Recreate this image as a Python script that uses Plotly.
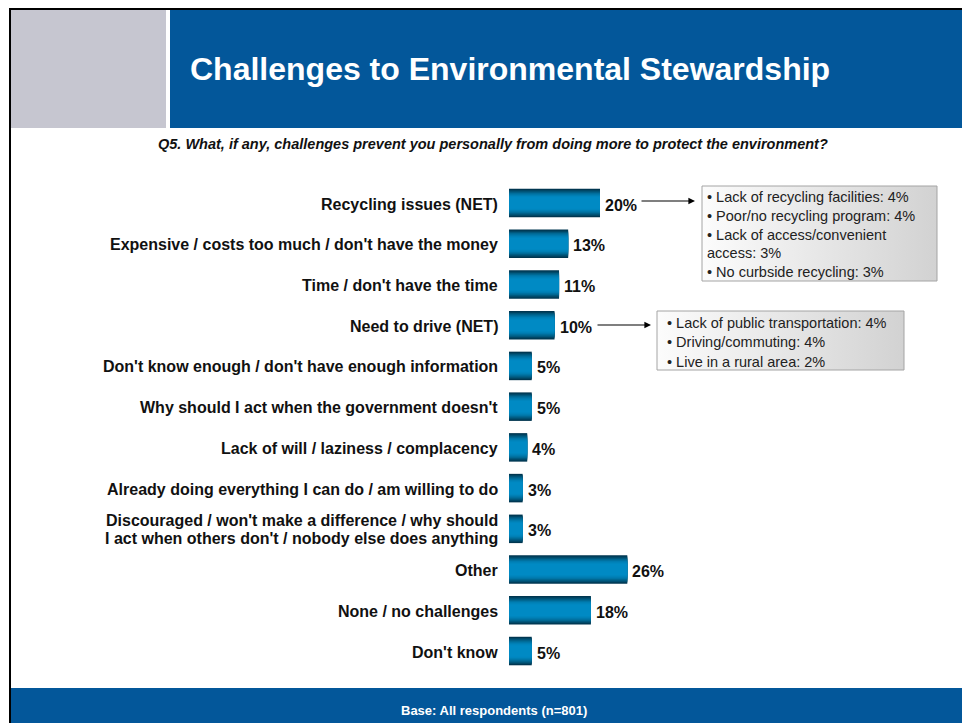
import plotly.graph_objects as go

# ---- survey results -------------------------------------------------------
categories = [
    "Recycling issues (NET)",
    "Expensive / costs too much / don't have the money",
    "Time / don't have the time",
    "Need to drive (NET)",
    "Don't know enough / don't have enough information",
    "Why should I act when the government doesn't",
    "Lack of will / laziness / complacency",
    "Already doing everything I can do / am willing to do",
    "Discouraged / won't make a difference / why should<br>I act when others don't / nobody else does anything",
    "Other",
    "None / no challenges",
    "Don't know",
]
values = [20, 13, 11, 10, 5, 5, 4, 3, 3, 26, 18, 5]

recycling_lines = [
    "• Lack of recycling facilities: 4%",
    "• Poor/no recycling program: 4%",
    "• Lack of access/convenient",
    "access: 3%",
    "• No curbside recycling: 3%",
]
driving_lines = [
    "• Lack of public transportation: 4%",
    "• Driving/commuting: 4%",
    "• Live in a rural area: 2%",
]

title = "Challenges to Environmental Stewardship"
question = "Q5. What, if any, challenges prevent you personally from doing more to protect the environment?"
base_note = "Base: All respondents (n=801)"

# ---- page geometry ----------------------------------------------------------
W, H = 962, 723
X0 = 509          # pixel where the value axis starts
PX_PER_PCT = 4.55 # pixels per percentage point
Y0 = 203          # pixel centre of first row
ROW = 40.73       # pixels between rows
BAR_W = 0.70
LINE_GAP = 18     # pixels between lines of a wrapped label

FONT = "Liberation Sans, Arial, Helvetica, sans-serif"
BLUE = "#03579a"
INK = "#111111"


def px_x(px):
    return (px - X0) / PX_PER_PCT


def px_y(py):
    return (py - Y0) / ROW


def pap_x(px):
    return px / W


def pap_y(py):
    return 1 - py / H


fig = go.Figure()

# bars: stacked overlay layers give the rounded metallic shading
shades = ["#003650", "#004766", "#00587e", "#006893", "#0075a6",
          "#007fb4", "#0086be", "#008ac4"]
rows = list(range(len(categories)))
for k, col in enumerate(shades):
    fig.add_trace(go.Bar(
        x=values, y=rows, orientation="h",
        width=BAR_W * (1 - k * 0.085),
        marker=dict(color=col, line=dict(width=0)),
        hoverinfo="skip", showlegend=False,
    ))

# detail boxes (light grey gradient panels)
def panel(x0, y0, x1, y1):
    fig.add_trace(go.Scatter(
        x=[px_x(x0), px_x(x1), px_x(x1), px_x(x0), px_x(x0)],
        y=[px_y(y0), px_y(y0), px_y(y1), px_y(y1), px_y(y0)],
        mode="lines", fill="toself",
        fillgradient=dict(type="horizontal",
                          colorscale=[[0, "#fcfcfc"], [1, "#d2d2d2"]]),
        line=dict(color="#a4a4a4", width=1),
        hoverinfo="skip", showlegend=False,
    ))

panel(702, 186, 937, 281)
panel(657, 311, 904, 370)

annotations = []

# category labels and value labels
for i, (cat, v) in enumerate(zip(categories, values)):
    parts = cat.split("<br>")
    n = len(parts)
    for j, part in enumerate(parts):
        offset = (j - (n - 1) / 2) * LINE_GAP
        annotations.append(dict(
            x=0, y=i, xref="x", yref="y", text=f"<b>{part}</b>",
            xanchor="right", yanchor="middle", align="right",
            xshift=-9, yshift=-1 - offset,
            showarrow=False, font=dict(family=FONT, size=16, color=INK),
        ))
    annotations.append(dict(
        x=v, y=i, xref="x", yref="y", text=f"<b>{v}%</b>",
        xanchor="left", yanchor="middle", xshift=3, yshift=-2,
        showarrow=False, font=dict(family=FONT, size=16, color=INK),
    ))

# detail text
for line, (lx, ly) in zip(recycling_lines,
                          [(705, 197), (705, 216), (705, 235), (705, 253), (705, 272)]):
    annotations.append(dict(
        x=pap_x(lx), y=pap_y(ly), xref="paper", yref="paper", text=line,
        xanchor="left", yanchor="middle", showarrow=False,
        font=dict(family=FONT, size=14.5, color="#222222"),
    ))
for line, ly in zip(driving_lines, [323, 342, 362]):
    annotations.append(dict(
        x=pap_x(665), y=pap_y(ly), xref="paper", yref="paper", text=line,
        xanchor="left", yanchor="middle", showarrow=False,
        font=dict(family=FONT, size=14.5, color="#222222"),
    ))

# connector arrows
for (tx, hx, ay) in [(640, 695, 201), (596, 651, 325)]:
    annotations.append(dict(
        x=pap_x(hx), y=pap_y(ay), xref="paper", yref="paper",
        ax=tx - hx, ay=0, text="", showarrow=True,
        arrowhead=2, arrowsize=1.1, arrowwidth=1.2, arrowcolor="#000000",
    ))

# header, question and footer text
annotations.append(dict(
    x=pap_x(510), y=pap_y(69), xref="paper", yref="paper",
    text=f"<b>{title}</b>", showarrow=False, xanchor="center", yanchor="middle",
    font=dict(family=FONT, size=32, color="#ffffff"),
))
annotations.append(dict(
    x=pap_x(493), y=pap_y(144), xref="paper", yref="paper",
    text=f"<b><i>{question}</i></b>", showarrow=False, xanchor="center", yanchor="middle",
    font=dict(family=FONT, size=14.5, color=INK),
))
annotations.append(dict(
    x=pap_x(494), y=pap_y(710), xref="paper", yref="paper",
    text=f"<b>{base_note}</b>", showarrow=False, xanchor="center", yanchor="middle",
    font=dict(family=FONT, size=13, color="#ffffff"),
))

shapes = [
    # header blocks
    dict(type="rect", xref="paper", yref="paper", x0=pap_x(11), x1=pap_x(166),
         y0=pap_y(128), y1=pap_y(10), fillcolor="#c6c6d0", line=dict(width=0), layer="below"),
    dict(type="rect", xref="paper", yref="paper", x0=pap_x(170), x1=1,
         y0=pap_y(128), y1=pap_y(10), fillcolor=BLUE, line=dict(width=0), layer="below"),
    # footer band
    dict(type="rect", xref="paper", yref="paper", x0=pap_x(11), x1=1,
         y0=0, y1=pap_y(688), fillcolor=BLUE, line=dict(width=0), layer="below"),
    # page frame
    dict(type="line", xref="paper", yref="paper", x0=pap_x(10), x1=pap_x(10),
         y0=pap_y(8), y1=0, line=dict(color="#000000", width=2)),
    dict(type="line", xref="paper", yref="paper", x0=pap_x(9), x1=1,
         y0=pap_y(9), y1=pap_y(9), line=dict(color="#000000", width=2)),
]

fig.update_layout(
    width=W, height=H, autosize=False,
    margin=dict(l=0, r=0, t=0, b=0, pad=0),
    paper_bgcolor="#ffffff", plot_bgcolor="#ffffff",
    barmode="overlay",
    xaxis=dict(range=[px_x(0), px_x(W)], visible=False, fixedrange=True),
    yaxis=dict(range=[px_y(H), px_y(0)], visible=False, fixedrange=True),
    shapes=shapes, annotations=annotations,
    font=dict(family=FONT),
)

fig.write_html("out.html")
